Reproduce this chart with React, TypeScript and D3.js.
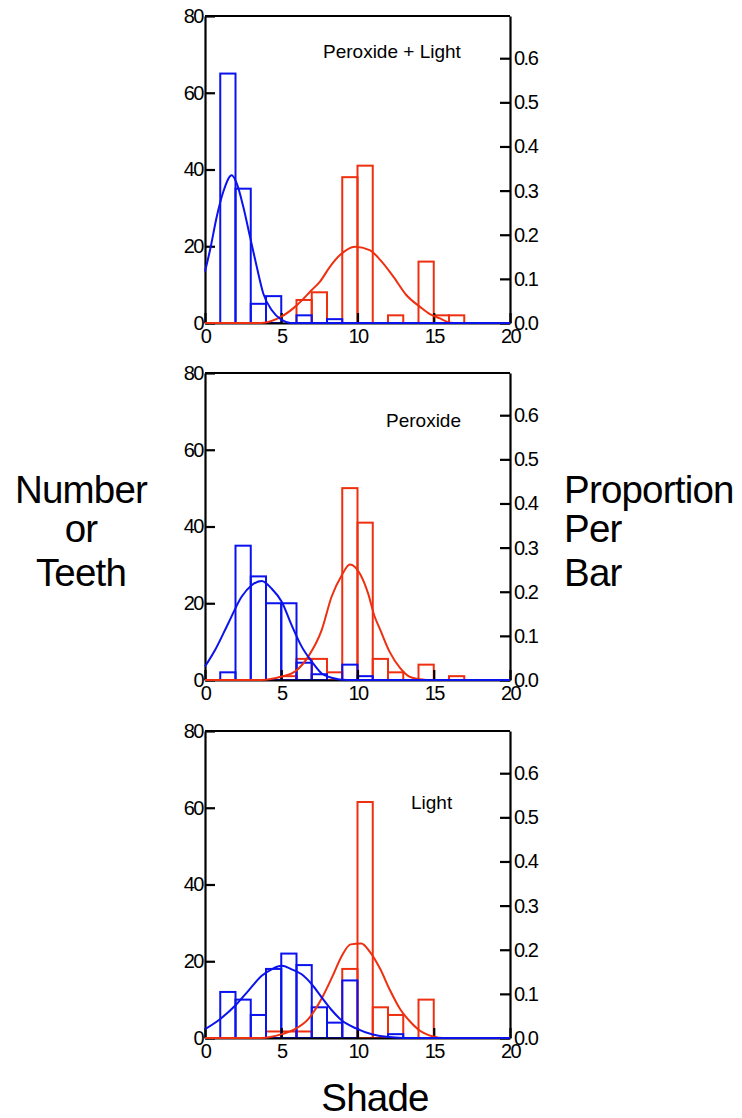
import { useEffect, useRef } from 'react'
import * as d3 from 'd3'

const SHADE_TICKS = [0, 5, 10, 15, 20]
const COUNT_TICKS = [0, 20, 40, 60, 80]
const PROP_TICKS = [0, 0.1, 0.2, 0.3, 0.4, 0.5, 0.6]
const TEETH_PER_GROUP = 115

const PANEL_TITLES = ['Peroxide + Light', 'Peroxide', 'Light']

// teeth per shade bin (bins 0-1, 1-2, ... 19-20)
const BLUE_PL = [0, 65, 35, 5, 7, 0, 2, 0, 1, 0, 0, 0, 0, 0, 0, 0, 0, 0, 0, 0]
const RED_PL = [0, 0, 0, 0, 0, 0, 6, 8, 0, 38, 41, 0, 2, 0, 16, 2, 2, 0, 0, 0]
const BLUE_P = [0, 2, 35, 27, 20, 20, 4.5, 1.5, 0, 4, 1, 0, 0, 0, 0, 0, 0, 0, 0, 0]
const RED_P = [0, 0, 0, 0, 0, 1, 5.5, 5.5, 2, 50, 41, 5.5, 2, 0, 4, 0, 1, 0, 0, 0]
const BLUE_L = [0, 12, 10, 6, 18, 22, 19, 8, 4, 15, 0, 0, 1, 0, 0, 0, 0, 0, 0, 0]
const RED_L = [0, 0, 0, 0, 1.7, 1.7, 1.7, 0, 0, 18, 61.5, 8, 6, 0, 10, 0, 0, 0, 0, 0]

// fitted curves, [shade, teeth]
const BLUE_CURVE_PL: [number, number][] = [
  [0, 13.4], [0.33, 19], [0.77, 27.7], [1.2, 34.2], [1.75, 38.5], [2.08, 36.4], [2.51, 30.3],
  [2.95, 22.5], [3.39, 14.7], [3.82, 7.7], [4.37, 3.4], [5.03, 0.8], [5.6, 0], [20, 0],
]
const RED_CURVE_PL: [number, number][] = [
  [0, 0], [3.7, 0], [5.03, 1.7], [5.9, 4.2], [7.0, 8.6], [7.54, 10.8], [8.2, 14.7], [8.85, 17.7],
  [9.84, 19.9], [10.8, 19], [11.5, 16.4], [12.35, 12.1], [13.2, 7.3], [14.1, 4.2], [14.75, 2.3],
  [15.4, 1.2], [15.95, 0.2], [16.3, 0],
]
const BLUE_CURVE_P: [number, number][] = [
  [0, 3.5], [0.66, 7.8], [1.53, 14.8], [2.4, 21.7], [3.06, 24.7], [3.72, 25.8], [4.37, 23.8],
  [5.03, 20.4], [5.68, 14.3], [6.34, 8.7], [7.0, 4.8], [7.65, 1.7], [8.3, 0.6], [9.3, 0], [20, 0],
]
const RED_CURVE_P: [number, number][] = [
  [0, 0], [3.7, 0], [5.03, 0.9], [5.9, 2.2], [6.77, 6.1], [7.65, 13], [8.3, 21.7], [8.97, 27.3],
  [9.5, 30.1], [10.16, 27.7], [10.7, 22.5], [11.1, 16.8], [11.5, 13], [12.1, 7.4], [12.8, 3.1],
  [13.4, 0.9], [14.1, 0.2], [14.5, 0],
]
const BLUE_CURVE_L: [number, number][] = [
  [0, 2.3], [0.98, 4.9], [1.97, 8.4], [2.84, 12.3], [3.72, 16.2], [4.37, 17.9], [5.03, 18.8],
  [5.68, 17.9], [6.34, 16.6], [7.0, 14], [7.65, 10.6], [8.3, 7.3], [8.96, 4.6], [9.9, 2.5],
  [11.0, 0.9], [11.9, 0.3], [13, 0], [20, 0],
]
const RED_CURVE_L: [number, number][] = [
  [0, 0], [3.7, 0], [5.03, 1], [5.9, 2.3], [6.77, 4.9], [7.65, 10.3], [8.35, 16], [8.97, 21.4],
  [9.55, 24.4], [10.25, 24.6], [10.8, 22.5], [11.5, 17.9], [12.1, 12.7], [12.8, 7.5], [13.4, 4.5],
  [14.1, 1.9], [14.97, 0.4], [15.6, 0], [16, 0],
]

const BLUE = '#0a12ee'
const RED = '#ee3010'
const FONT = '"Liberation Sans", Arial, sans-serif'

export default function App() {
  const svgRef = useRef<SVGSVGElement>(null)

  useEffect(() => {
    const W = 742
    const H = 1118
    const X0 = 205
    const X1 = 510
    const panelTops = [16, 373, 731]
    const panelH = 307
    const titlePos = [
      { x: 323, y: 42 },
      { x: 386, y: 54 },
      { x: 411, y: 78 },
    ]
    const panels = [
      { blue: BLUE_PL, red: RED_PL, blueCurve: BLUE_CURVE_PL, redCurve: RED_CURVE_PL },
      { blue: BLUE_P, red: RED_P, blueCurve: BLUE_CURVE_P, redCurve: RED_CURVE_P },
      { blue: BLUE_L, red: RED_L, blueCurve: BLUE_CURVE_L, redCurve: RED_CURVE_L },
    ]

    const svg = d3.select(svgRef.current)
    svg.selectAll('*').remove()
    svg.attr('width', W).attr('height', H)

    const x = d3.scaleLinear().domain([0, 20]).range([X0, X1])
    const y = d3.scaleLinear().domain([0, 80]).range([panelH, 0])
    const yp = d3.scaleLinear().domain([0, 80 / TEETH_PER_GROUP]).range([panelH, 0])

    const styleAxis = (ax: any) => {
      ax.select('.domain').attr('stroke', '#000').attr('stroke-width', 2.2)
      ax.selectAll('.tick line').attr('stroke', '#000').attr('stroke-width', 2.2)
      ax.selectAll('text')
        .attr('fill', '#000')
        .attr('font-size', 20)
        .attr('font-family', FONT)
        .attr('letter-spacing', -1.5)
    }

    panels.forEach((p, pi) => {
      const g = svg.append('g').attr('transform', `translate(0,${panelTops[pi]})`)

      // Bars
      const drawBars = (counts: number[], color: string) => {
        g.append('g')
          .selectAll('rect')
          .data(counts.map((c, i) => ({ i, c })).filter((d) => d.c > 0))
          .join('rect')
          .attr('x', (d) => x(d.i))
          .attr('y', (d) => y(d.c))
          .attr('width', (d) => x(d.i + 1) - x(d.i))
          .attr('height', (d) => panelH - y(d.c))
          .attr('fill', 'none')
          .attr('stroke', color)
          .attr('stroke-width', 2)
      }
      drawBars(p.red, RED)
      drawBars(p.blue, BLUE)

      // Frame top
      g.append('line')
        .attr('x1', X0).attr('x2', X1)
        .attr('y1', 0).attr('y2', 0)
        .attr('stroke', '#000').attr('stroke-width', 2.2)

      // Axes
      g.append('g')
        .attr('transform', `translate(${X0},0)`)
        .call(d3.axisLeft(y).tickValues(COUNT_TICKS).tickSizeInner(-10).tickSizeOuter(0).tickPadding(2))
        .call(styleAxis)

      g.append('g')
        .attr('transform', `translate(${X1},0)`)
        .call(
          d3.axisRight(yp).tickValues(PROP_TICKS).tickFormat(d3.format('.1f'))
            .tickSizeInner(-10).tickSizeOuter(0).tickPadding(4)
        )
        .call(styleAxis)

      g.append('g')
        .attr('transform', `translate(0,${panelH})`)
        .call(d3.axisBottom(x).tickValues(SHADE_TICKS).tickSizeInner(-10).tickSizeOuter(0).tickPadding(6))
        .call(styleAxis)

      // Curves
      const line = d3.line<[number, number]>()
        .x((d) => x(d[0]))
        .y((d) => y(d[1]))
        .curve(d3.curveMonotoneX)
      g.append('path').attr('d', line(p.redCurve)).attr('fill', 'none').attr('stroke', RED).attr('stroke-width', 2)
      g.append('path').attr('d', line(p.blueCurve)).attr('fill', 'none').attr('stroke', BLUE).attr('stroke-width', 2)

      // Title
      g.append('text')
        .attr('x', titlePos[pi].x)
        .attr('y', titlePos[pi].y)
        .attr('font-size', 19)
        .attr('font-family', FONT)
        .text(PANEL_TITLES[pi])
    })

    // Big labels
    const big = (txt: string, tx: number, ty: number, anchor: string) =>
      svg.append('text')
        .attr('x', tx).attr('y', ty)
        .attr('text-anchor', anchor)
        .attr('font-size', 38.5)
        .attr('font-family', FONT)
        .attr('letter-spacing', -0.8)
        .text(txt)
    big('Number', 81, 503, 'middle')
    big('or', 81, 542, 'middle')
    big('Teeth', 81, 586, 'middle')
    big('Proportion', 564, 503, 'start')
    big('Per', 564, 542, 'start')
    big('Bar', 564, 586, 'start')
    big('Shade', 375, 1111, 'middle')
  }, [])

  return (
    <div style={{ position: 'absolute', left: 0, top: 0 }}>
      <svg ref={svgRef} style={{ display: 'block' }} />
    </div>
  )
}
